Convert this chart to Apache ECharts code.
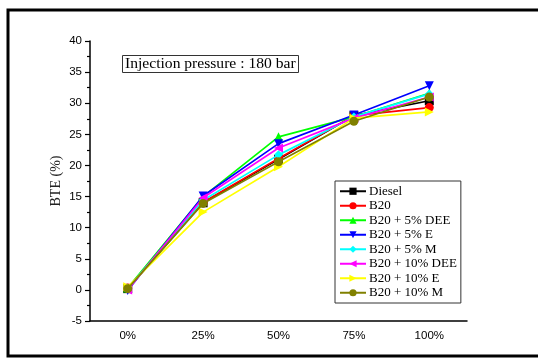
<!DOCTYPE html>
<html>
<head>
<meta charset="utf-8">
<script src="https://cdn.jsdelivr.net/npm/echarts@6/dist/echarts.min.js"></script>
<style>
  html, body { margin: 0; padding: 0; background: #fff; }
  #chart { width: 538px; height: 360px; }
</style>
</head>
<body>
<div id="chart"></div>
<script>
// Engine load levels
const loads = ['0%', '25%', '50%', '75%', '100%'];

// Brake thermal efficiency (%) for each fuel blend
const diesel   = [0.2, 14.0, 21.0, 28.0, 30.4];
const b20      = [0.3, 14.1, 21.1, 28.0, 29.3];
const b20Dee5  = [0.3, 15.0, 24.6, 27.8, 31.6];
const b20E5    = [-0.1, 15.1, 23.5, 28.1, 32.8];
const b20M5    = [0.2, 14.4, 21.7, 27.8, 31.5];
const b20Dee10 = [0.0, 14.8, 22.8, 27.6, 31.0];
const b20E10   = [0.5, 12.5, 19.8, 27.6, 28.6];
const b20M10   = [0.2, 13.9, 20.6, 27.1, 31.0];

const seriesNames = ['Diesel', 'B20', 'B20 + 5% DEE', 'B20 + 5% E', 'B20 + 5% M',
                     'B20 + 10% DEE', 'B20 + 10% E', 'B20 + 10% M'];
const seriesData = [diesel, b20, b20Dee5, b20E5, b20M5, b20Dee10, b20E10, b20M10];
const colors = ['#000000', '#ff0000', '#00ff00', '#0000ff', '#00ffff', '#ff00ff', '#ffff00', '#808000'];
const symbols = ['rect', 'circle', 'triangle',
                 'path://M0,0 L10,0 L5,10 Z',
                 'diamond',
                 'path://M0,5 L10,0 L10,10 Z',
                 'path://M0,0 L10,5 L0,10 Z',
                 'circle'];

const chart = echarts.init(document.getElementById('chart'), null, { renderer: 'canvas' });

const series = seriesNames.map((name, i) => ({
  name: name,
  type: 'line',
  xAxisIndex: 0,
  data: seriesData[i],
  color: colors[i],
  symbol: symbols[i],
  symbolSize: 9,
  lineStyle: { width: 1.7 },
  itemStyle: { color: colors[i] },
  z: 3 + i
}));

chart.setOption({
  animation: false,
  backgroundColor: '#ffffff',
  grid: { left: 90, top: 41, right: 71, bottom: 39, containLabel: false },
  title: {
    text: 'Injection pressure : 180 bar',
    left: 122, top: 55,
    padding: [1, 3, 1, 3],
    borderColor: '#333', borderWidth: 1,
    textStyle: { fontFamily: 'Liberation Serif', fontSize: 15.6, fontWeight: 'normal', color: '#000' }
  },
  legend: {
    orient: 'vertical',
    left: 335, top: 181,
    padding: [3, 4, 3, 4],
    itemWidth: 26, itemHeight: 9, itemGap: 0,
    borderColor: '#333', borderWidth: 1,
    textStyle: { fontFamily: 'Liberation Serif', fontSize: 13, lineHeight: 14.5, color: '#000', padding: [0, 0, 0, -2] },
    data: seriesNames
  },
  xAxis: [{
    type: 'category',
    data: loads,
    boundaryGap: true,
    axisLine: { onZero: false, lineStyle: { color: '#000', width: 1.5 } },
    axisTick: { alignWithLabel: true, length: 5, lineStyle: { color: '#000', width: 1.2 } },
    axisLabel: { fontFamily: 'Liberation Sans', fontSize: 11.5, color: '#000', margin: 9 },
    splitLine: { show: false }
  }, {
    type: 'category',
    data: loads,
    position: 'bottom',
    boundaryGap: true,
    axisLine: { show: false, onZero: false },
    axisTick: { length: 3, lineStyle: { color: '#000', width: 1.2 } },
    axisLabel: { show: false },
    splitLine: { show: false }
  }],
  yAxis: {
    type: 'value',
    min: -5, max: 40, interval: 5,
    name: 'BTE (%)',
    nameLocation: 'middle',
    nameGap: 27,
    nameMoveOverlap: false,
    nameRotate: 90,
    nameTextStyle: { fontFamily: 'Liberation Serif', fontSize: 14, color: '#222' },
    axisLine: { show: true, lineStyle: { color: '#000', width: 1.5 } },
    axisTick: { show: true, length: 5, lineStyle: { color: '#000', width: 1.2 } },
    minorTick: { show: true, splitNumber: 2, length: 3, lineStyle: { color: '#000', width: 1.2 } },
    axisLabel: { fontFamily: 'Liberation Sans', fontSize: 11.5, color: '#000', margin: 8 },
    splitLine: { show: false }
  },
  series: series,
  graphic: [{
    type: 'rect',
    shape: { x: 8, y: 10, width: 540, height: 346 },
    style: { fill: 'none', stroke: '#000', lineWidth: 3 },
    silent: true
  }]
});
</script>
</body>
</html>
